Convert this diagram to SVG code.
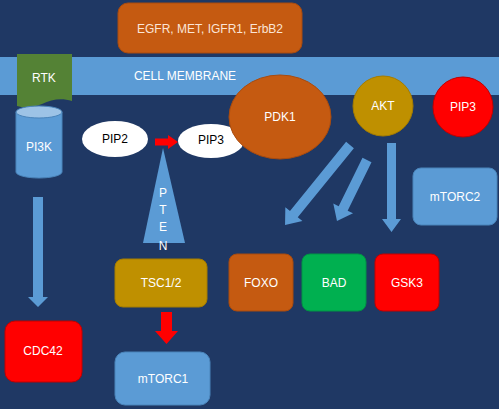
<svg xmlns="http://www.w3.org/2000/svg" width="499" height="409" viewBox="0 0 499 409">
<style>
text{font-family:"Liberation Sans",Arial,sans-serif;font-size:12px;text-anchor:middle;dominant-baseline:central;fill:#ffffff}
.dark{fill:#000000}
.blue{fill:#5B9BD5;stroke:#4A84BA;stroke-width:1}
.orange{fill:#C55A11;stroke:#A94B0E;stroke-width:1}
.gold{fill:#BF9000;stroke:#A57C00;stroke-width:1}
.red{fill:#FF0000;stroke:#C00000;stroke-width:1}
.green{fill:#00B050;stroke:#009444;stroke-width:1}
.arrow{fill:#5B9BD5}
.rarrow{fill:#FF0000}
</style>
<rect width="499" height="409" fill="#1F3864"/>
<g id="membrane">
<rect x="0" y="57" width="499" height="38" fill="#5B9BD5"/>
<text x="185" y="76">CELL MEMBRANE</text>
</g>
<g id="egfr">
<rect class="orange" x="118" y="3" width="184" height="50" rx="10"/>
<text x="210" y="29" style="fill:#FBE5D6">EGFR, MET, IGFR1, ErbB2</text>
</g>
<g id="rtk">
<path d="M17,54 H72 V101 C62,98 52,99 42,104 C32,108 24,108 17,106 Z" fill="#548235"/>
<text x="44" y="78">RTK</text>
</g>
<g id="pi3k">
<path d="M16,112 V172 A23,6 0 0 0 62,172 V112 Z" fill="#5B9BD5" stroke="#4A84BA"/>
<ellipse cx="39" cy="112" rx="23" ry="6" fill="#9DC3E6" stroke="#4A84BA"/>
<text x="39" y="147">PI3K</text>
</g>
<g id="pip2">
<ellipse cx="115" cy="139" rx="33" ry="18" fill="#ffffff"/>
<text class="dark" x="115" y="139">PIP2</text>
</g>
<g id="pip3a">
<ellipse cx="211" cy="141" rx="33" ry="17" fill="#ffffff"/>
<text class="dark" x="211" y="140">PIP3</text>
</g>
<g id="pdk1">
<ellipse class="orange" cx="280" cy="117" rx="51" ry="42"/>
<text x="280" y="117">PDK1</text>
</g>
<g id="akt">
<circle class="gold" cx="383" cy="106" r="30"/>
<text x="383" y="106">AKT</text>
</g>
<g id="pip3b">
<circle class="red" cx="463" cy="107" r="30"/>
<text x="463" y="107">PIP3</text>
</g>
<g id="mtorc2">
<rect class="blue" x="413" y="168" width="84" height="57" rx="8"/>
<text x="455" y="197">mTORC2</text>
</g>
<g id="pten">
<polygon points="163,148 185,243 143,243" fill="#5B9BD5"/>
<text x="163" y="193">P</text>
<text x="163" y="210">T</text>
<text x="163" y="227">E</text>
<text x="163" y="246">N</text>
</g>
<g id="tsc">
<rect class="gold" x="115" y="259" width="92" height="48" rx="8"/>
<text x="161" y="283">TSC1/2</text>
</g>
<g id="mtorc1">
<rect class="blue" x="115" y="352" width="95" height="53" rx="10"/>
<text x="163" y="379">mTORC1</text>
</g>
<g id="cdc42">
<rect class="red" x="5" y="321" width="77" height="61" rx="10"/>
<text x="43" y="351">CDC42</text>
</g>
<g id="foxo">
<rect class="orange" x="229" y="254" width="64" height="57" rx="8"/>
<text x="261" y="283">FOXO</text>
</g>
<g id="bad">
<rect class="green" x="302" y="254" width="64" height="57" rx="8"/>
<text x="334" y="283">BAD</text>
</g>
<g id="gsk3">
<rect class="red" x="375" y="254" width="64" height="57" rx="8"/>
<text x="407" y="283">GSK3</text>
</g>
<g id="connectors">
<polygon class="arrow" points="33,197 43,197 43,297 48,297 38,307 28,297 33,297"/>
<polygon class="rarrow" points="155,138.5 168,138.5 168,135 178,142 168,149 168,145.5 155,145.5"/>
<polygon class="rarrow" points="161,312 172,312 172,331 178,331 166.5,344 155,331 161,331"/>
<polygon class="arrow" transform="translate(350,145) rotate(129.1)" points="0,-5 89,-5 89,-11 103,0 89,11 89,5 0,5"/>
<polygon class="arrow" transform="translate(367,160) rotate(116.2)" points="0,-5 54,-5 54,-11 68,0 54,11 54,5 0,5"/>
<polygon class="arrow" transform="translate(391.5,143) rotate(90)" points="0,-4.5 76,-4.5 76,-9.5 89,0 76,9.5 76,4.5 0,4.5"/>
</g>
</svg>
